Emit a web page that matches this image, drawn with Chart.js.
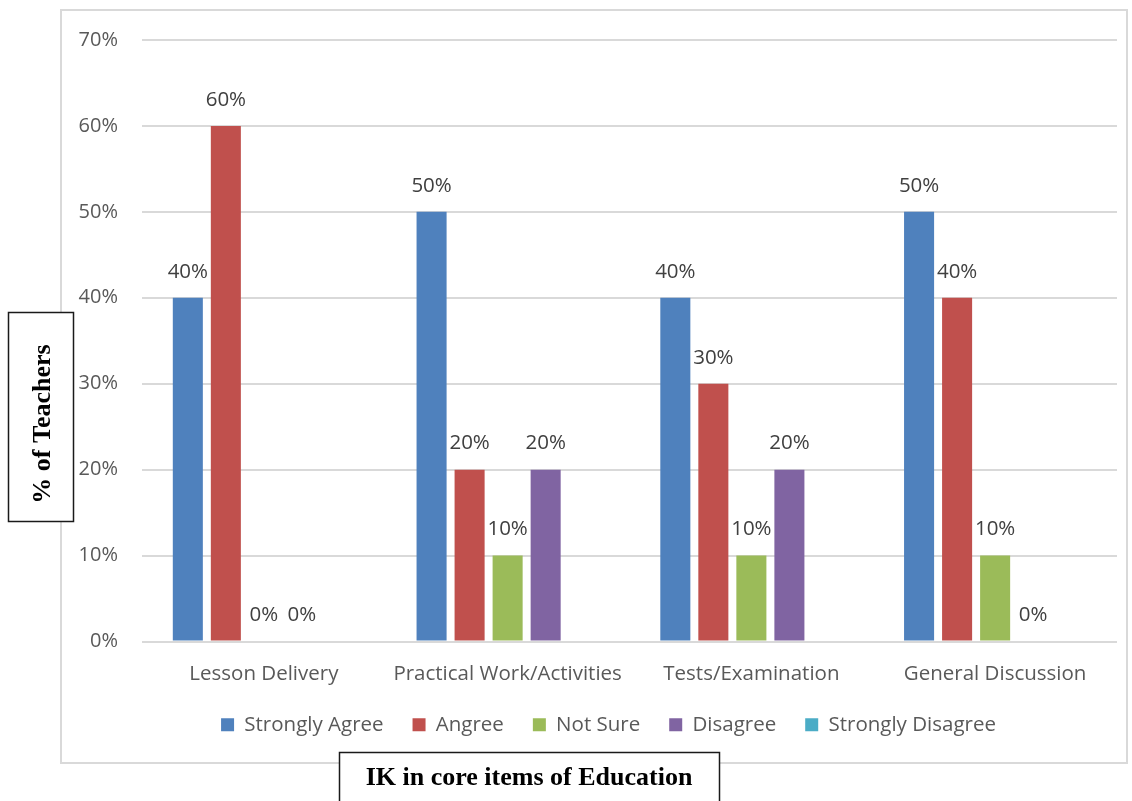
<!DOCTYPE html>
<html>
<head>
<meta charset="utf-8">
<title>IK in core items of Education</title>
<script src="https://cdn.jsdelivr.net/npm/chart.js@4.4.1/dist/chart.umd.min.js"></script>
<style>
  html, body { margin: 0; padding: 0; background: #ffffff; }
  #wrap { width: 1132px; height: 801px; position: relative; }
  canvas { display: block; }
</style>
</head>
<body>
<div id="wrap"><canvas id="chart" width="1132" height="801"></canvas></div>
<script>
// Survey responses (% of teachers) per core item of education
const categories = ["Lesson Delivery", "Practical Work/Activities", "Tests/Examination", "General Discussion"];
const seriesNames = ["Strongly Agree", "Angree", "Not Sure", "Disagree", "Strongly Disagree"];
const stronglyAgree = [40, 50, 40, 50];
const agree = [60, 20, 30, 40];
const notSure = [0, 10, 10, 10];
const disagree = [0, 20, 20, 0];
const stronglyDisagree = [null, null, null, null];
const yTicks = [0, 10, 20, 30, 40, 50, 60, 70];

const seriesColors = ["#4f81bd", "#c0504d", "#9bbb59", "#8064a2", "#4bacc6"];
const seriesValues = [stronglyAgree, agree, notSure, disagree, stronglyDisagree];

const FONT = "'Open Sans', 'Noto Sans', sans-serif";
const SERIF = "'Liberation Serif', 'Times New Roman', serif";
const TEXT = "#595959";

// Value labels printed above each bar
const valueLabels = {
  id: "valueLabels",
  afterDatasetsDraw(chart) {
    const ctx = chart.ctx;
    ctx.save();
    ctx.font = "20.5px " + FONT;
    ctx.fillStyle = "#404040";
    ctx.textAlign = "center";
    ctx.textBaseline = "middle";
    chart.data.datasets.forEach((ds, i) => {
      const meta = chart.getDatasetMeta(i);
      meta.data.forEach((bar, j) => {
        const v = ds.data[j];
        if (v === null || v === undefined) return;
        ctx.fillText(v + "%", bar.x, bar.y - 26);
      });
    });
    ctx.restore();
  }
};

// Legend row sits a little right of the canvas centre
const legendShift = {
  id: "legendShift",
  afterLayout(chart) {
    if (chart.legend) chart.legend.left = 100;
  }
};

// Outer frame plus the boxed axis titles
const frameAndTitles = {
  id: "frameAndTitles",
  beforeDraw(chart) {
    const ctx = chart.ctx;
    ctx.save();
    ctx.fillStyle = "#ffffff";
    ctx.fillRect(0, 0, chart.width, chart.height);
    ctx.strokeStyle = "#d9d9d9";
    ctx.lineWidth = 2;
    ctx.strokeRect(61, 10, 1066, 753);
    ctx.restore();
  },
  afterDraw(chart) {
    const ctx = chart.ctx;
    ctx.save();
    // y-axis title box
    ctx.fillStyle = "#ffffff";
    ctx.fillRect(8, 312, 65, 209);
    ctx.strokeStyle = "#1a1a1a";
    ctx.lineWidth = 1.5;
    ctx.strokeRect(8.5, 312.5, 65, 209);
    ctx.translate(43, 424);
    ctx.rotate(-Math.PI / 2);
    ctx.fillStyle = "#000000";
    ctx.font = "bold 26px " + SERIF;
    ctx.textAlign = "center";
    ctx.textBaseline = "middle";
    ctx.fillText("% of Teachers", 0, 0);
    ctx.restore();

    ctx.save();
    // x-axis title box
    ctx.fillStyle = "#ffffff";
    ctx.fillRect(339, 752, 380, 60);
    ctx.strokeStyle = "#1a1a1a";
    ctx.lineWidth = 1.5;
    ctx.strokeRect(339.5, 752.5, 380, 60);
    ctx.fillStyle = "#000000";
    ctx.font = "bold 26px " + SERIF;
    ctx.textAlign = "center";
    ctx.textBaseline = "middle";
    ctx.fillText("IK in core items of Education", 529, 778);
    ctx.restore();
  }
};

new Chart(document.getElementById("chart"), {
  type: "bar",
  data: {
    labels: categories,
    datasets: seriesNames.map((name, i) => ({
      label: name,
      data: seriesValues[i],
      backgroundColor: seriesColors[i],
      borderWidth: 0,
      categoryPercentage: 0.78,
      barPercentage: 0.79
    }))
  },
  options: {
    responsive: false,
    animation: false,
    layout: { padding: { left: 0, right: 15, top: 40, bottom: 56 } },
    plugins: {
      tooltip: { enabled: false },
      legend: {
        position: "bottom",
        labels: {
          font: { family: FONT, size: 20.5 },
          color: TEXT,
          boxWidth: 13,
          boxHeight: 13,
          padding: 29
        }
      }
    },
    scales: {
      x: {
        grid: { display: false },
        border: { display: false },
        ticks: { font: { family: FONT, size: 20.5 }, color: TEXT, padding: 12, maxRotation: 0 },
        afterFit(scale) { scale.height = 44; }
      },
      y: {
        min: 0,
        max: 70,
        afterBuildTicks(scale) { scale.ticks = yTicks.map(v => ({ value: v })); },
        grid: { color: "#d9d9d9", lineWidth: 2, drawTicks: false },
        border: { display: false },
        ticks: {
          font: { family: FONT, size: 20 },
          color: TEXT,
          padding: 24,
          callback: v => v + "%"
        },
        afterFit(scale) { scale.width = 142; }
      }
    }
  },
  plugins: [frameAndTitles, legendShift, valueLabels]
});
</script>
</body>
</html>
